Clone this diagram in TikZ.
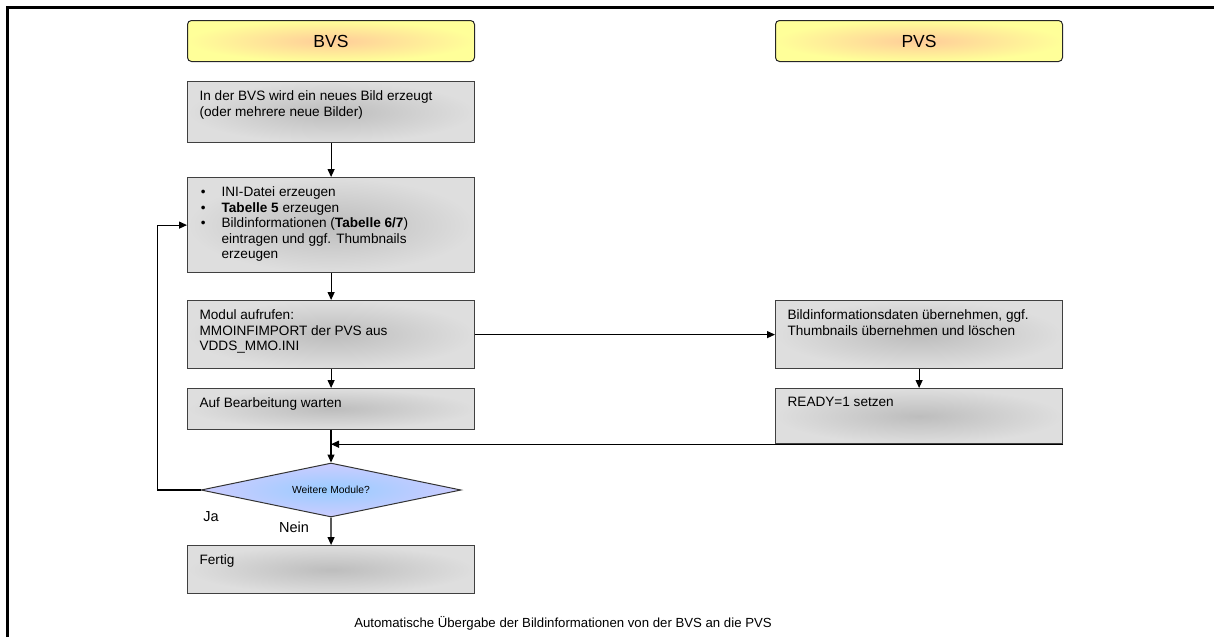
\documentclass[tikz,border=0pt]{standalone}
\usepackage{fontspec}
\setmainfont{Liberation Sans}
\usepackage{tikz}
\usetikzlibrary{shapes.geometric,arrows.meta}
\definecolor{laneOuter}{HTML}{FFFF99}
\definecolor{laneInner}{HTML}{FFCC99}
\definecolor{stepOuter}{HTML}{DEDEDE}
\definecolor{stepInner}{HTML}{BDBDBD}
\definecolor{askOuter}{HTML}{CCCCFF}
\definecolor{askInner}{HTML}{99CCFF}
\newcommand{\boxFont}[0]{\fontsize{13.6pt}{15.6pt}\selectfont}
\newcommand{\boxText}[2]{\parbox[c][#1][t]{263pt}{\raggedright\vspace{9pt}#2}}
\newenvironment{stepList}{\begin{list}{\textbullet}{\setlength{\leftmargin}{22pt}%
  \setlength{\labelwidth}{6pt}\setlength{\labelsep}{16pt}\setlength{\itemsep}{0pt}%
  \setlength{\parsep}{0pt}\setlength{\topsep}{0pt}\setlength{\partopsep}{0pt}}}{\end{list}}

\begin{document}
\begin{tikzpicture}[x=1pt, y=-1pt, >={Triangle[length=8pt,width=7pt]}]
  \tikzset{
    lane/.style={draw=black!85, line width=1pt, rounded corners=4pt,
      inner color=laneInner, outer color=laneOuter,
      minimum width=287pt, minimum height=41pt,
      font=\fontsize{17.5pt}{20pt}\selectfont},
    stepbox/.style={draw=black!75, line width=1.2pt, anchor=north west,
      inner color=stepInner, outer color=stepOuter,
      inner xsep=12pt, inner ysep=0pt, font=\boxFont},
    decision/.style={diamond, draw=black!80, line width=1pt, aspect=4.8,
      inner color=askInner, outer color=askOuter, inner sep=0pt,
      minimum width=260pt, minimum height=54pt,
      font=\fontsize{10.3pt}{12pt}\selectfont},
    flow/.style={->, line width=1.2pt}
  }
  \useasboundingbox (0,0) rectangle (1214,637);
  \draw[line width=2.4pt] (7.5,637) -- (7.5,7.5) -- (1214,7.5);

  \node[lane] (BVS) at (331,41) {BVS};
  \node[lane] (PVS) at (919,41) {PVS};

  \node[stepbox] (BVS-1) at (187,81) {\boxText{61pt}{In der BVS wird ein neues Bild erzeugt\\
    (oder mehrere neue Bilder)}};
  \node[stepbox] (BVS-2) at (187,177) {\boxText{95pt}{%
    \begin{stepList}
      \item INI-Datei erzeugen
      \item \textbf{Tabelle 5} erzeugen
      \item Bildinformationen (\textbf{Tabelle 6/7})\\ eintragen und ggf. Thumbnails\\ erzeugen
    \end{stepList}}};
  \node[stepbox] (BVS-3) at (187,300) {\boxText{68pt}{Modul aufrufen:\\
    MMOINFIMPORT der PVS aus\\ VDDS\_MMO.INI}};
  \node[stepbox] (BVS-4) at (187,388) {\boxText{40.5pt}{Auf Bearbeitung warten}};
  \node[decision] (BVS-5) at (331,490) {Weitere Module?};
  \node[stepbox] (BVS-6) at (187,545) {\boxText{48pt}{Fertig}};

  \node[stepbox] (PVS-1) at (775,300) {\boxText{68pt}{Bildinformationsdaten übernehmen, ggf.\\
    Thumbnails übernehmen und löschen}};
  \node[stepbox] (PVS-2) at (775,388) {\boxText{55pt}{READY=1 setzen}};

  \node[font=\fontsize{14.5pt}{16pt}\selectfont] (ja) at (211,517) {Ja};
  \node[font=\fontsize{14.5pt}{16pt}\selectfont] (nein) at (294,527) {Nein};
  \node[font=\fontsize{13.2pt}{15pt}\selectfont] (caption) at (563,623)
    {Automatische Übergabe der Bildinformationen von der BVS an die PVS};

  \coordinate (join) at (BVS-5.north |- PVS-2.south);
  \draw[flow] (BVS-1) -- (BVS-2);
  \draw[flow] (BVS-2) -- (BVS-3);
  \draw[flow] (BVS-3) -- (BVS-4);
  \draw[flow] (BVS-4.south -| BVS-5.north) -- (BVS-5.north);
  \draw[flow] (BVS-5) -- (BVS-6);
  \draw[flow] (BVS-3.east |- PVS-1.west) -- (PVS-1.west);
  \draw[flow] (PVS-1) -- (PVS-2);
  \draw[flow] (PVS-2.south east) -- (join);
  \draw[flow] (BVS-5.west) -- ++(-43,0) |- (BVS-2.west);
\end{tikzpicture}
\end{document}
